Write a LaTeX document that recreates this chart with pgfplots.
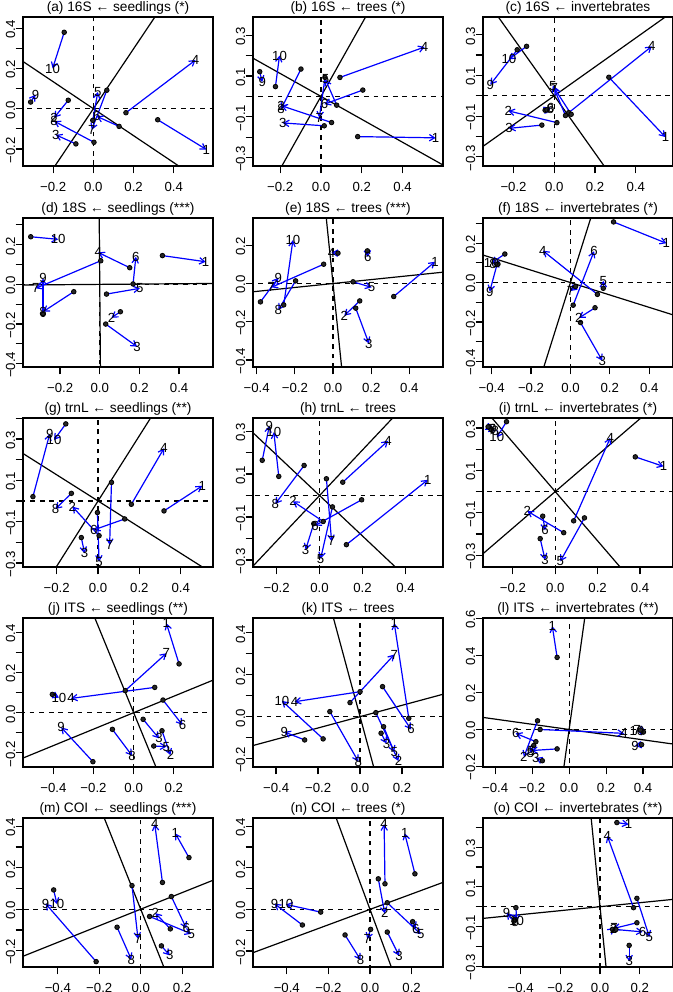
\documentclass[border=0pt]{standalone}
\usepackage{fontspec}
\setmainfont{Liberation Sans}
\usepackage{pgfplots}
\pgfplotsset{compat=1.18}
\usepackage{pgfplotstable}
\usetikzlibrary{arrows.meta}

\newcommand\fs{\fontsize{6.6}{7.5}\selectfont}
\newcommand\ft{\fontsize{6.85}{8}\selectfont}

% ---------- data: lab, start (dot), end (arrow head, label) ----------
\pgfplotstableread{
lab x0 y0 x1 y1
1 0.320 -0.055 0.562 -0.203
2 -0.125 0.042 -0.195 -0.045
3 -0.087 -0.175 -0.187 -0.130
4 0.162 -0.020 0.508 0.242
5 -0.003 -0.058 0.022 0.083
6 0.128 -0.088 0.017 -0.038
7 0.067 0.092 -0.008 -0.105
8 0.003 -0.167 -0.195 -0.062
9 -0.312 0.033 -0.288 0.070
10 -0.145 0.380 -0.203 0.200
}\tA
\pgfplotstableread{
lab x0 y0 x1 y1
1 0.180 -0.197 0.562 -0.203
2 0.052 -0.128 -0.195 -0.045
3 0.016 -0.144 -0.187 -0.130
4 0.093 0.093 0.508 0.242
5 0.077 -0.043 0.022 0.083
6 0.205 0.031 0.017 -0.038
7 0.020 0.093 -0.008 -0.105
8 -0.098 0.134 -0.195 -0.062
9 -0.300 0.121 -0.288 0.070
10 -0.223 0.048 -0.203 0.200
}\tB
\pgfplotstableread{
lab x0 y0 x1 y1
1 0.268 0.091 0.546 -0.203
2 0.013 -0.132 -0.226 -0.074
3 -0.061 -0.144 -0.222 -0.160
4 0.071 -0.083 0.479 0.243
5 0.055 -0.097 -0.007 0.050
6 -0.045 -0.071 -0.017 -0.058
7 0.083 -0.091 0.000 0.038
8 -0.036 -0.069 -0.020 -0.066
9 -0.182 0.226 -0.314 0.055
10 -0.136 0.243 -0.223 0.179
}\tC
\pgfplotstableread{
lab x0 y0 x1 y1
1 0.316 0.145 0.534 0.114
2 0.104 -0.138 0.059 -0.168
3 0.030 -0.200 0.188 -0.314
4 0.151 0.084 -0.008 0.161
5 0.034 -0.049 0.202 -0.020
6 0.168 0.002 0.182 0.139
7 0.005 0.119 -0.323 -0.020
8 -0.131 -0.037 -0.286 -0.138
9 -0.286 -0.151 -0.286 0.030
10 -0.348 0.240 -0.210 0.227
}\tD
\pgfplotstableread{
lab x0 y0 x1 y1
1 0.318 -0.068 0.534 0.114
2 0.140 -0.091 0.059 -0.168
3 0.119 -0.129 0.188 -0.314
4 0.026 0.159 -0.008 0.161
5 0.105 0.009 0.202 -0.020
6 0.180 0.171 0.182 0.139
7 -0.049 0.101 -0.323 -0.020
8 -0.196 0.014 -0.286 -0.138
9 -0.380 -0.096 -0.286 0.030
10 -0.258 -0.112 -0.210 0.227
}\tE
\pgfplotstableread{
lab x0 y0 x1 y1
1 0.219 0.308 0.487 0.200
2 0.125 -0.128 0.043 -0.180
3 0.051 -0.203 0.162 -0.397
4 0.137 -0.060 -0.140 0.162
5 0.167 -0.029 0.167 0.009
6 0.014 -0.115 0.120 0.159
7 0.026 -0.020 0.000 -0.043
8 -0.368 0.094 -0.393 0.094
9 -0.373 0.091 -0.410 -0.046
10 -0.333 0.145 -0.402 0.099
}\tF
\pgfplotstableread{
lab x0 y0 x1 y1
1 0.319 -0.048 0.504 0.073
2 0.005 -0.168 -0.124 -0.027
3 -0.081 -0.177 -0.065 -0.253
4 0.161 -0.016 0.319 0.255
5 -0.003 -0.056 0.005 -0.294
6 0.129 -0.087 -0.021 -0.140
7 0.065 0.090 0.056 -0.213
8 -0.129 0.037 -0.206 -0.039
9 -0.315 0.021 -0.234 0.324
10 -0.156 0.373 -0.213 0.295
}\tG
\pgfplotstableread{
lab x0 y0 x1 y1
1 0.125 -0.229 0.504 0.073
2 0.017 -0.121 -0.124 -0.027
3 -0.027 -0.131 -0.065 -0.253
4 0.108 0.062 0.319 0.255
5 0.060 -0.053 0.005 -0.294
6 0.196 -0.020 -0.021 -0.140
7 0.032 0.078 0.056 -0.213
8 -0.072 0.140 -0.206 -0.039
9 -0.267 0.164 -0.234 0.324
10 -0.190 0.089 -0.213 0.295
}\tH
\pgfplotstableread{
lab x0 y0 x1 y1
1 0.378 0.164 0.511 0.119
2 0.040 -0.194 -0.132 -0.092
3 -0.071 -0.222 -0.048 -0.322
4 0.087 -0.138 0.260 0.254
5 0.138 -0.124 0.024 -0.329
6 -0.059 -0.116 -0.048 -0.183
7 -0.306 0.298 -0.298 0.294
8 -0.302 0.294 -0.283 0.286
9 -0.317 0.306 -0.294 0.298
10 -0.230 0.330 -0.276 0.256
}\tI
\pgfplotstableread{
lab x0 y0 x1 y1
1 0.226 0.243 0.163 0.445
2 0.141 -0.090 0.183 -0.211
3 0.047 -0.033 0.126 -0.128
4 0.105 0.126 -0.312 0.071
5 0.100 -0.166 0.163 -0.169
6 0.146 0.063 0.243 -0.061
7 -0.042 0.110 0.163 0.296
8 -0.106 -0.083 -0.008 -0.214
9 -0.203 -0.244 -0.361 -0.073
10 -0.405 0.091 -0.372 0.075
}\tJ
\pgfplotstableread{
lab x0 y0 x1 y1
1 0.232 -0.008 0.163 0.445
2 0.075 0.019 0.183 -0.211
3 0.100 -0.079 0.126 -0.128
4 0.000 0.119 -0.312 0.071
5 0.112 -0.048 0.163 -0.169
6 0.107 0.143 0.243 -0.061
7 -0.048 0.067 0.163 0.296
8 -0.144 0.024 -0.008 -0.214
9 -0.264 -0.111 -0.361 -0.073
10 -0.176 -0.106 -0.372 0.075
}\tK
\pgfplotstableread{
lab x0 y0 x1 y1
1 -0.065 0.390 -0.091 0.559
2 -0.171 0.047 -0.245 -0.149
3 -0.145 -0.169 -0.180 -0.154
4 -0.157 0.000 0.297 -0.021
5 -0.065 -0.105 -0.206 -0.114
6 -0.180 -0.066 -0.289 -0.021
7 0.402 -0.014 0.367 -0.003
8 -0.192 -0.087 -0.210 -0.126
9 0.392 -0.082 0.357 -0.087
10 0.385 -0.003 0.367 -0.009
}\tL
\pgfplotstableread{
lab x0 y0 x1 y1
1 0.233 0.249 0.167 0.366
2 0.143 -0.095 0.071 -0.019
3 0.100 -0.177 0.140 -0.223
4 0.105 0.129 0.068 0.410
5 0.043 -0.035 0.244 -0.119
6 0.148 0.061 0.220 -0.092
7 -0.042 0.114 -0.013 -0.143
8 -0.114 -0.087 -0.045 -0.243
9 -0.215 -0.253 -0.459 0.027
10 -0.420 0.093 -0.404 0.024
}\tM
\pgfplotstableread{
lab x0 y0 x1 y1
1 0.216 0.171 0.167 0.366
2 0.040 0.147 0.071 -0.019
3 0.083 -0.109 0.140 -0.223
4 0.072 0.123 0.068 0.410
5 0.083 0.032 0.244 -0.119
6 0.205 -0.059 0.220 -0.092
7 0.003 -0.096 -0.013 -0.143
8 -0.120 -0.123 -0.045 -0.243
9 -0.325 -0.075 -0.459 0.027
10 -0.237 -0.013 -0.404 0.024
}\tN
\pgfplotstableread{
lab x0 y0 x1 y1
1 0.085 0.424 0.144 0.415
2 0.186 -0.081 0.068 -0.110
3 0.147 -0.195 0.147 -0.276
4 0.169 -0.005 0.037 0.356
5 0.186 0.042 0.249 -0.153
6 0.080 -0.115 0.215 -0.127
7 0.063 -0.114 0.071 -0.107
8 -0.432 -0.068 -0.429 -0.076
9 -0.434 -0.073 -0.471 -0.031
10 -0.424 -0.005 -0.420 -0.073
}\tO

\pgfplotsset{
  proc/.style={
    scale only axis, width=95pt, height=74.5pt, anchor=north west,
    axis line style={black, line width=0.75pt},
    tick pos=left, tick align=outside,
    major tick length=3.7pt,
    every tick/.style={black, line width=0.6pt},
    tick label style={font=\fs},
    xticklabel style={inner sep=0pt, anchor=north, yshift=-4.0pt},
    yticklabel style={rotate=90, anchor=south, inner sep=0pt, xshift=-0.6pt},
    every axis title/.style={font=\ft, at={(0.5,1)}, anchor=base, inner sep=0pt, yshift=2.6pt},
    unbounded coords=jump,
    clip=true,
  },
  rotl/.style={black, line width=0.6pt},
  dashl/.style={black, line width=0.6pt, dash pattern=on 2.4pt off 2.4pt},
  arr/.style={blue, line width=0.6pt, -{Straight Barb[length=2.6pt,width=3.2pt,line width=0.6pt]}},
  dots/.style={only marks, mark=*, mark size=1.15pt, mark options={draw=black, fill=black!85, line width=0.4pt}},
  labs/.style={only marks, mark=*, mark size=0pt, mark options={draw=none, fill=none},
    nodes near coords, point meta=explicit symbolic,
    every node near coord/.append style={anchor=center, font=\fs, inner sep=0pt, text=black}},
}

\newcommand\panel[4]{%
\begin{axis}[proc, at={#1}, #2]
\addplot[rotl] coordinates {#4};
\addplot[dashl] coordinates {(-2,0) (2,0)};
\addplot[dashl] coordinates {(0,-2) (0,2)};
\addplot[arr, quiver={u=\thisrow{x1}-\thisrow{x0}, v=\thisrow{y1}-\thisrow{y0}}] table[x=x0,y=y0] {#3};
\addplot[dots] table[x=x0,y=y0] {#3};
\addplot[labs] table[x=x1,y=y1,meta=lab] {#3};
\end{axis}}

\begin{document}
\begin{tikzpicture}
% ---- row 1 ----
\panel{(0pt,0pt)}{title={(a) 16S ← seedlings (*)},
  xmin=-0.35,xmax=0.595,ymin=-0.285,ymax=0.456,
  xtick={-0.2,0,0.2,0.4},xticklabels={−0.2,0.0,0.2,0.4},
  ytick={-0.2,-0.1,0,0.1,0.2,0.3,0.4},yticklabels={−0.2,,0.0,,0.2,,0.4}}
  {\tA}{(-0.671,-1) (0.671,1) (nan,nan) (-1,0.671) (1,-0.671)}
\panel{(115pt,0pt)}{title={(b) 16S ← trees (*)},
  xmin=-0.333,xmax=0.598,ymin=-0.341,ymax=0.389,
  xtick={-0.2,0,0.2,0.4},xticklabels={−0.2,0.0,0.2,0.4},
  ytick={-0.3,-0.2,-0.1,0,0.1,0.2,0.3},yticklabels={−0.3,,−0.1,,0.1,,0.3}}
  {\tB}{(-0.562,-1) (0.562,1) (nan,nan) (-1,0.562) (1,-0.562)}
\panel{(230pt,0pt)}{title={(c) 16S ← invertebrates},
  xmin=-0.35,xmax=0.583,ymin=-0.345,ymax=0.387,
  xtick={-0.2,0,0.2,0.4},xticklabels={−0.2,0.0,0.2,0.4},
  ytick={-0.3,-0.2,-0.1,0,0.1,0.2,0.3},yticklabels={−0.3,,−0.1,,0.1,,0.3}}
  {\tC}{(-1,-0.71) (1,0.71) (nan,nan) (-0.71,1) (0.71,-1)}
% ---- row 2 ----
\panel{(0pt,-100.5pt)}{title={(d) 18S ← seedlings (***)},
  xmin=-0.387,xmax=0.571,ymin=-0.4165,ymax=0.3345,
  xtick={-0.2,0,0.2,0.4},xticklabels={−0.2,0.0,0.2,0.4},
  ytick={-0.4,-0.3,-0.2,-0.1,0,0.1,0.2,0.3},yticklabels={−0.4,,−0.2,,0.0,,0.2,}}
  {\tD}{(-1,-0.008) (1,0.008) (nan,nan) (-0.008,1) (0.008,-1)}
\panel{(115pt,-100.5pt)}{title={(e) 18S ← trees (***)},
  xmin=-0.419,xmax=0.576,ymin=-0.437,ymax=0.343,
  xtick={-0.4,-0.2,0,0.2,0.4},xticklabels={−0.4,−0.2,0.0,0.2,0.4},
  ytick={-0.4,-0.2,0,0.2},yticklabels={−0.4,−0.2,0.0,0.2}}
  {\tE}{(-1,-0.103) (1,0.103) (nan,nan) (-0.103,1) (0.103,-1)}
\panel{(230pt,-100.5pt)}{title={(f) 18S ← invertebrates (*)},
  xmin=-0.444,xmax=0.521,ymin=-0.429,ymax=0.328,
  xtick={-0.4,-0.2,0,0.2,0.4},xticklabels={−0.4,−0.2,0.0,0.2,0.4},
  ytick={-0.4,-0.3,-0.2,-0.1,0,0.1,0.2,0.3},yticklabels={−0.4,,−0.2,,0.0,,0.2,}}
  {\tF}{(-1,0.315) (1,-0.315) (nan,nan) (-0.315,-1) (0.315,1)}
% ---- row 3 ----
\panel{(0pt,-200.5pt)}{title={(g) trnL ← seedlings (**)},
  xmin=-0.363,xmax=0.556,ymin=-0.3195,ymax=0.4015,
  xtick={-0.2,0,0.2,0.4},xticklabels={−0.2,0.0,0.2,0.4},
  ytick={-0.3,-0.2,-0.1,0,0.1,0.2,0.3,0.4},yticklabels={−0.3,,−0.1,,0.1,,0.3,}}
  {\tG}{(-0.633,-1) (0.633,1) (nan,nan) (-1,0.633) (1,-0.633)}
\panel{(115pt,-200.5pt)}{title={(h) trnL ← trees},
  xmin=-0.31,xmax=0.575,ymin=-0.333,ymax=0.361,
  xtick={-0.2,0,0.2,0.4},xticklabels={−0.2,0.0,0.2,0.4},
  ytick={-0.3,-0.2,-0.1,0,0.1,0.2,0.3},yticklabels={−0.3,,−0.1,,0.1,,0.3}}
  {\tH}{(-0.943,-1) (0.943,1) (nan,nan) (-1,0.943) (1,-0.943)}
\panel{(230pt,-200.5pt)}{title={(i) trnL ← invertebrates (*)},
  xmin=-0.341,xmax=0.556,ymin=-0.356,ymax=0.3475,
  xtick={-0.2,0,0.2,0.4},xticklabels={−0.2,0.0,0.2,0.4},
  ytick={-0.3,-0.2,-0.1,0,0.1,0.2,0.3},yticklabels={−0.3,,−0.1,,0.1,,0.3}}
  {\tI}{(-1,-0.86) (1,0.86) (nan,nan) (-0.86,1) (0.86,-1)}
% ---- row 4 ----
\panel{(0pt,-300.5pt)}{title={(j) ITS ← seedlings (**)},
  xmin=-0.551,xmax=0.395,ymin=-0.2705,ymax=0.4715,
  xtick={-0.4,-0.2,0,0.2},xticklabels={−0.4,−0.2,0.0,0.2},
  ytick={-0.2,-0.1,0,0.1,0.2,0.3,0.4},yticklabels={−0.2,,0.0,,0.2,,0.4}}
  {\tJ}{(-1,-0.41) (1,0.41) (nan,nan) (-0.41,1) (0.41,-1)}
\panel{(115pt,-300.5pt)}{title={(k) ITS ← trees},
  xmin=-0.51,xmax=0.395,ymin=-0.24,ymax=0.47,
  xtick={-0.4,-0.2,0,0.2},xticklabels={−0.4,−0.2,0.0,0.2},
  ytick={-0.2,-0.1,0,0.1,0.2,0.3,0.4},yticklabels={−0.2,,0.0,,0.2,,0.4}}
  {\tK}{(-1,-0.27) (1,0.27) (nan,nan) (-0.27,1) (0.27,-1)}
\panel{(230pt,-300.5pt)}{title={(l) ITS ← invertebrates (**)},
  xmin=-0.466,xmax=0.562,ymin=-0.203,ymax=0.603,
  xtick={-0.4,-0.2,0,0.2,0.4},xticklabels={−0.4,−0.2,0.0,0.2,0.4},
  ytick={-0.2,0,0.2,0.4,0.6},yticklabels={−0.2,0.0,0.2,0.4,0.6}}
  {\tL}{(-1,0.14) (1,-0.14) (nan,nan) (-0.14,-1) (0.14,1)}
% ---- row 5 ----
\panel{(0pt,-400.5pt)}{title={(m) COI ← seedlings (***)},
  xmin=-0.568,xmax=0.349,ymin=-0.279,ymax=0.44,
  xtick={-0.4,-0.2,0,0.2},xticklabels={−0.4,−0.2,0.0,0.2},
  ytick={-0.2,-0.1,0,0.1,0.2,0.3,0.4},yticklabels={−0.2,,0.0,,0.2,,0.4}}
  {\tM}{(-1,-0.4) (1,0.4) (nan,nan) (-0.4,1) (0.4,-1)}
\panel{(115pt,-400.5pt)}{title={(n) COI ← trees (*)},
  xmin=-0.5625,xmax=0.351,ymin=-0.277,ymax=0.4394,
  xtick={-0.4,-0.2,0,0.2},xticklabels={−0.4,−0.2,0.0,0.2},
  ytick={-0.2,-0.1,0,0.1,0.2,0.3,0.4},yticklabels={−0.2,,0.0,,0.2,,0.4}}
  {\tN}{(-1,-0.37) (1,0.37) (nan,nan) (-0.37,1) (0.37,-1)}
\panel{(230pt,-400.5pt)}{title={(o) COI ← invertebrates (**)},
  xmin=-0.59,xmax=0.368,ymin=-0.304,ymax=0.447,
  xtick={-0.4,-0.2,0,0.2},xticklabels={−0.4,−0.2,0.0,0.2},
  ytick={-0.3,-0.2,-0.1,0,0.1,0.2,0.3,0.4},yticklabels={−0.3,,−0.1,,0.1,,0.3,}}
  {\tO}{(-1,-0.1) (1,0.1) (nan,nan) (-0.1,1) (0.1,-1)}
\pgfresetboundingbox
\path (-11.5pt,8.5pt) rectangle (325pt,-487.5pt);
\end{tikzpicture}
\end{document}
